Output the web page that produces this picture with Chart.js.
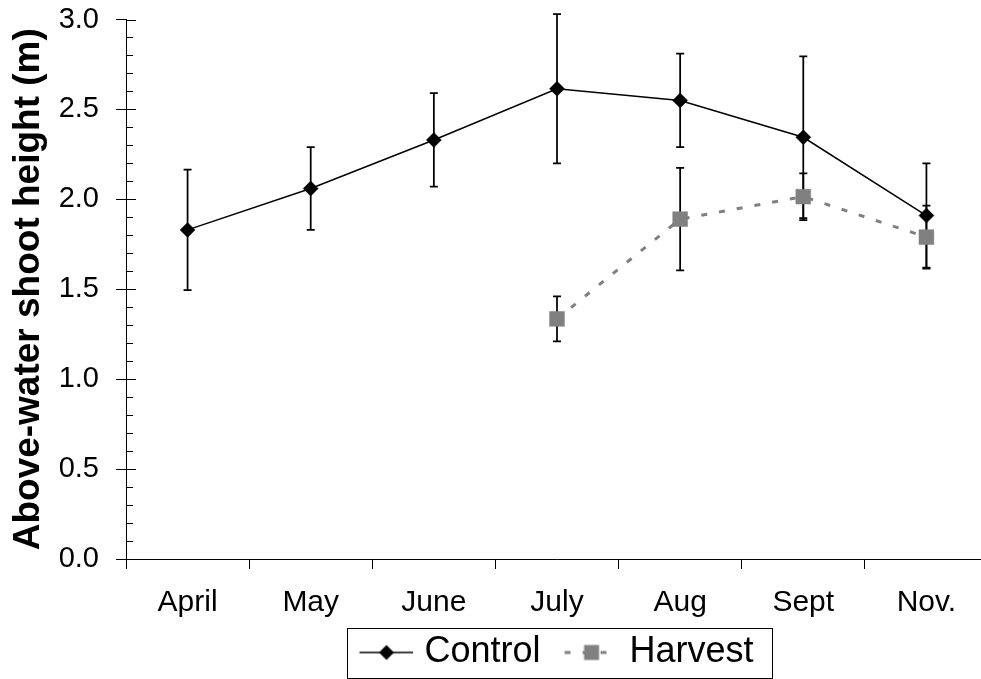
<!DOCTYPE html>
<html>
<head>
<meta charset="utf-8">
<script src="https://cdn.jsdelivr.net/npm/chart.js@4/dist/chart.umd.min.js"></script>
<style>
  html, body { margin: 0; padding: 0; background: #fff; overflow: hidden; }
  #wrap { width: 990px; height: 679px; }
</style>
</head>
<body>
<div id="wrap"><canvas id="shootChart" width="990" height="679"></canvas></div>
<script>
// Above-water shoot height by month, control vs. harvested plots (+/- error bars)

const months = ['April', 'May', 'June', 'July', 'Aug', 'Sept', 'Nov.'];

const controlMeans = [1.83, 2.06, 2.33, 2.615, 2.55, 2.345, 1.91];
const controlErr   = [0.335, 0.23, 0.26, 0.415, 0.26, 0.45, 0.29];

const harvestMeans = [null, null, null, 1.335, 1.89, 2.015, 1.79];
const harvestErr   = [null, null, null, 0.125, 0.285, 0.13, 0.175];

const Y_MIN = 0;
const Y_MAX = 3;
const Y_MAJOR_STEP = 0.5;
const Y_MINOR_STEP = 0.1;

const FONT = '"Liberation Sans", Arial, Helvetica, sans-serif';
const GREY = '#808080';

// legend samples: line + marker. Left 20px of the image is empty so the
// sample sits closer to its label (Chart.js centres the image in the box).
function legendSample(kind) {
    const c = document.createElement('canvas');
    c.width = 74;
    c.height = 18;
    const g = c.getContext('2d');
    const x0 = 20, cy = 9, mid = x0 + 27;
    if (kind === 'control') {
        g.strokeStyle = '#000';
        g.lineWidth = 1.5;
        g.beginPath(); g.moveTo(x0, cy); g.lineTo(x0 + 54, cy); g.stroke();
        g.fillStyle = '#000';
        g.beginPath();
        g.moveTo(mid - 7.5, cy); g.lineTo(mid, cy - 7.5); g.lineTo(mid + 7.5, cy); g.lineTo(mid, cy + 7.5);
        g.closePath(); g.fill();
    } else {
        g.strokeStyle = GREY;
        g.lineWidth = 3;
        g.setLineDash([6, 12]);
        g.beginPath(); g.moveTo(x0, cy); g.lineTo(x0 + 54, cy); g.stroke();
        g.setLineDash([]);
        g.fillStyle = GREY;
        g.fillRect(mid - 7.5, cy - 7.5, 15, 15);
    }
    return c;
}

// error bars, drawn under the markers
const errorBars = {
    id: 'errorBars',
    beforeDatasetsDraw(chart) {
        const {ctx, scales: {x, y}} = chart;
        const sets = [[controlMeans, controlErr], [harvestMeans, harvestErr]];
        ctx.save();
        ctx.strokeStyle = '#000';
        ctx.lineWidth = 1.75;
        sets.forEach(([means, errs], di) => {
            if (!chart.isDatasetVisible(di)) return;
            means.forEach((m, i) => {
                if (m === null || errs[i] === null) return;
                const px = x.getPixelForValue(i);
                const top = y.getPixelForValue(m + errs[i]);
                const bot = y.getPixelForValue(m - errs[i]);
                ctx.beginPath();
                ctx.moveTo(px, top); ctx.lineTo(px, bot);
                ctx.moveTo(px - 4, top); ctx.lineTo(px + 4, top);
                ctx.moveTo(px - 4, bot); ctx.lineTo(px + 4, bot);
                ctx.stroke();
            });
        });
        ctx.restore();
    }
};

// inner tick marks on the y axis (majors cross the axis, minors every 0.1 inside)
const innerTicks = {
    id: 'innerTicks',
    afterDraw(chart) {
        const {ctx, scales: {y}} = chart;
        const x0 = chart.chartArea.left;
        ctx.save();
        ctx.strokeStyle = '#000';
        ctx.lineWidth = 1;
        const n = Math.round((Y_MAX - Y_MIN) / Y_MINOR_STEP);
        const every = Math.round(Y_MAJOR_STEP / Y_MINOR_STEP);
        for (let k = 0; k <= n; k++) {
            const py = Math.round(y.getPixelForValue(Y_MIN + k * Y_MINOR_STEP)) + 0.5;
            ctx.beginPath();
            ctx.moveTo(x0, py);
            ctx.lineTo(x0 + (k % every === 0 ? 10 : 7), py);
            ctx.stroke();
        }
        ctx.restore();
    }
};

// nudge the legend and frame it with a box
const legendBox = {
    id: 'legendBox',
    afterLayout(chart) {
        const lg = chart.legend;
        lg.left -= 7; lg.right -= 7;
        lg.top += 1.5; lg.bottom += 1.5;
    },
    afterDraw(chart) {
        const lg = chart.legend;
        const {ctx} = chart;
        const cx = (lg.left + lg.right) / 2 + 9.5;
        const cy = lg.top + lg.options.labels.padding + 18 + 0.5;
        ctx.save();
        ctx.strokeStyle = '#000';
        ctx.lineWidth = 1;
        ctx.strokeRect(Math.round(cx - 212.5) + 0.5, Math.round(cy - 25) + 0.5, 425, 50);
        ctx.restore();
    }
};

const ctx = document.getElementById('shootChart').getContext('2d');

new Chart(ctx, {
    type: 'line',
    data: {
        labels: months,
        datasets: [
            {
                label: 'Control',
                data: controlMeans,
                borderColor: '#000',
                borderWidth: 1.5,
                pointStyle: 'rectRot',
                pointRadius: 7.5,
                pointBackgroundColor: '#000',
                pointBorderColor: '#000',
                pointBorderWidth: 0.5,
                tension: 0
            },
            {
                label: 'Harvest',
                data: harvestMeans,
                borderColor: GREY,
                borderWidth: 3,
                borderDash: [6, 12],
                pointStyle: 'rect',
                pointRadius: 10.5,
                pointBackgroundColor: GREY,
                pointBorderColor: GREY,
                pointBorderWidth: 0.5,
                tension: 0
            }
        ]
    },
    options: {
        responsive: false,
        animation: false,
        layout: { padding: 0, autoPadding: false },
        scales: {
            x: {
                offset: true,
                grid: {
                    offset: true,
                    drawOnChartArea: false,
                    drawTicks: true,
                    tickLength: 10,
                    color: '#000'
                },
                border: { display: true, color: '#000', width: 1 },
                ticks: {
                    color: '#000',
                    padding: 16,
                    maxRotation: 0,
                    autoSkip: false,
                    font: { family: FONT, size: 30 }
                },
                afterFit(scale) {
                    scale.height = 63;
                    scale.paddingLeft = 0;
                    scale.paddingRight = 2;
                }
            },
            y: {
                min: Y_MIN,
                max: Y_MAX,
                grid: {
                    drawOnChartArea: false,
                    drawTicks: true,
                    tickLength: 10,
                    color: '#000'
                },
                border: { display: true, color: '#000', width: 1 },
                ticks: {
                    stepSize: Y_MAJOR_STEP,
                    color: '#000',
                    padding: 17,
                    font: { family: FONT, size: 29 },
                    callback: v => Number(v).toFixed(1)
                },
                title: {
                    display: true,
                    text: 'Above-water shoot height (m)',
                    color: '#000',
                    font: { family: FONT, size: 37, weight: 'bold' },
                    padding: { top: 6.5, bottom: 0 }
                },
                afterFit(scale) {
                    scale.width = 126;
                    scale.paddingTop = 19.5;
                    scale.paddingBottom = 0;
                }
            }
        },
        plugins: {
            legend: {
                position: 'bottom',
                fullSize: false,
                labels: {
                    usePointStyle: true,
                    pointStyleWidth: 60,
                    padding: 11,
                    color: '#000',
                    font: { family: FONT, size: 36 },
                    generateLabels() {
                        return [
                            { text: 'Control', pointStyle: legendSample('control'), fillStyle: '#000', strokeStyle: '#000', lineWidth: 0, hidden: false, datasetIndex: 0 },
                            { text: 'Harvest', pointStyle: legendSample('harvest'), fillStyle: GREY, strokeStyle: GREY, lineWidth: 0, hidden: false, datasetIndex: 1 }
                        ];
                    }
                }
            },
            tooltip: { enabled: false }
        }
    },
    plugins: [errorBars, innerTicks, legendBox]
});
</script>
</body>
</html>
